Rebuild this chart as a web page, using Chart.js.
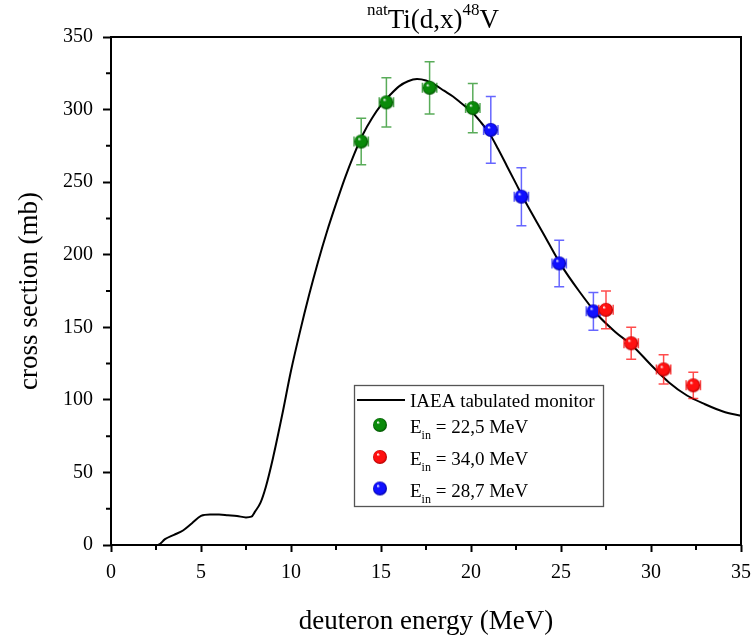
<!DOCTYPE html>
<html>
<head>
<meta charset="utf-8">
<title>natTi(d,x)48V</title>
<script src="https://cdn.jsdelivr.net/npm/chart.js@4.4.1/dist/chart.umd.min.js"></script>
<style>
    html, body { margin: 0; padding: 0; background: #fff; }
    #wrap { width: 754px; height: 638px; }
</style>
</head>
<body>
<div id="wrap"><canvas id="chart" width="754" height="638"></canvas></div>
<script>
// IAEA tabulated monitor curve
const monitorEnergy = [2.0, 2.6, 3.0, 3.5, 4.0, 4.5, 5.0, 5.5, 6.0, 6.5, 7.0, 7.5, 7.8, 8.0, 8.3, 8.6, 9.0, 9.5,
    10.0, 10.5, 11.0, 11.5, 12.0, 12.5, 13.0, 13.5, 14.0, 14.5, 15.0, 15.5, 16.0, 16.5, 17.0, 17.5, 18.0, 18.5,
    19.0, 19.5, 20.0, 20.5, 21.0, 21.5, 22.0, 22.5, 23.0, 24.0, 25.0, 26.0, 27.0, 28.0, 29.0, 30.0, 31.0, 32.0,
    33.0, 34.0, 35.0];
const monitorXs = [0, 0, 4, 7, 10, 15, 20, 21, 21, 20.5, 20, 19, 19.5, 23, 29, 40, 60, 89,
    120, 147, 172, 195, 216, 235, 253, 269, 283, 294, 303, 310, 316, 319.5, 321, 320, 317, 313,
    309, 304, 299, 292, 284, 273, 261, 249, 237, 215, 193, 175, 159, 147, 137, 124, 112, 103,
    97, 92, 89];

// measured points, one set per incident energy
const run225Energy = [13.9, 15.3, 17.7, 20.1];
const run225Xs = [278, 305, 315, 301];
const run225Err = [16, 17, 18, 17];

const run340Energy = [27.5, 28.9, 30.7, 32.35];
const run340Xs = [162, 139, 121, 110];
const run340Err = [13, 11, 10, 9];

const run287Energy = [21.1, 22.8, 24.9, 26.8];
const run287Xs = [286, 240, 194, 161];
const run287Err = [23, 20, 16, 13];

const energyErr = 0.4;

// axis ticks
const xTicks = [0, 5, 10, 15, 20, 25, 30, 35];
const xMinorTicks = [2.5, 7.5, 12.5, 17.5, 22.5, 27.5, 32.5];
const yTicks = [0, 50, 100, 150, 200, 250, 300, 350];
const yMinorTicks = [25, 75, 125, 175, 225, 275, 325];

const SERIF = '"Liberation Serif", "DejaVu Serif", serif';

// shaded ball used as point marker
function makeSphere(color, dark) {
    const r = 7;
    const c = document.createElement('canvas');
    c.width = 16;
    c.height = 16;
    const ctx = c.getContext('2d');
    const g = ctx.createRadialGradient(5.8, 5.2, 0.3, 8, 8, r);
    g.addColorStop(0, '#ffffff');
    g.addColorStop(0.22, color);
    g.addColorStop(0.75, color);
    g.addColorStop(1, dark);
    ctx.fillStyle = g;
    ctx.beginPath();
    ctx.arc(8, 8, r, 0, Math.PI * 2);
    ctx.fill();
    return c;
}

const greenBall = makeSphere('#0a8a0a', '#005000');
const redBall = makeSphere('#ff1010', '#b00000');
const blueBall = makeSphere('#1010ff', '#0000a0');

function toPoints(xs, ys) {
    return xs.map((x, i) => ({ x: x, y: ys[i] }));
}

// error bars drawn just before each point set
const errorBars = {
    id: 'errorBars',
    beforeDatasetDraw(chart, args) {
        const ds = chart.data.datasets[args.index];
        if (!ds.errY) return;
        const ctx = chart.ctx;
        const xs = chart.scales.x;
        const ys = chart.scales.y;
        ctx.save();
        ctx.strokeStyle = ds.errColor;
        ctx.lineWidth = 1.5;
        ds.data.forEach((p, i) => {
            const px = xs.getPixelForValue(p.x);
            const py = ys.getPixelForValue(p.y);
            const top = ys.getPixelForValue(p.y + ds.errY[i]);
            const bot = ys.getPixelForValue(p.y - ds.errY[i]);
            const lft = xs.getPixelForValue(p.x - ds.errX);
            const rgt = xs.getPixelForValue(p.x + ds.errX);
            ctx.beginPath();
            ctx.moveTo(px, top); ctx.lineTo(px, bot);
            ctx.moveTo(px - 5, top); ctx.lineTo(px + 5, top);
            ctx.moveTo(px - 5, bot); ctx.lineTo(px + 5, bot);
            ctx.moveTo(lft, py); ctx.lineTo(rgt, py);
            ctx.moveTo(lft, py - 5); ctx.lineTo(lft, py + 5);
            ctx.moveTo(rgt, py - 5); ctx.lineTo(rgt, py + 5);
            ctx.stroke();
        });
        ctx.restore();
    }
};

// box frame + minor ticks
const frame = {
    id: 'frame',
    afterDraw(chart) {
        const { ctx, chartArea: a } = chart;
        const xs = chart.scales.x;
        const ys = chart.scales.y;
        ctx.save();
        ctx.strokeStyle = '#000';
        ctx.lineWidth = 2;
        ctx.strokeRect(a.left, a.top, a.right - a.left, a.bottom - a.top);
        ctx.beginPath();
        for (const v of xMinorTicks) {
            const px = xs.getPixelForValue(v);
            ctx.moveTo(px, a.bottom); ctx.lineTo(px, a.bottom + 5);
        }
        for (const v of yMinorTicks) {
            const py = ys.getPixelForValue(v);
            ctx.moveTo(a.left, py); ctx.lineTo(a.left - 5, py);
        }
        ctx.stroke();
        ctx.restore();
    }
};

// title with superscripts
const titlePlugin = {
    id: 'nuclideTitle',
    afterDraw(chart) {
        const ctx = chart.ctx;
        const parts = [
            { t: 'nat', size: 17, dy: -13 },
            { t: 'Ti(d,x)', size: 27, dy: 0 },
            { t: '48', size: 17, dy: -13 },
            { t: 'V', size: 27, dy: 0 }
        ];
        ctx.save();
        ctx.fillStyle = '#000';
        ctx.textBaseline = 'alphabetic';
        let total = 0;
        for (const p of parts) {
            ctx.font = p.size + 'px ' + SERIF;
            p.w = ctx.measureText(p.t).width;
            total += p.w;
        }
        let x = 433 - total / 2;
        const base = 28;
        for (const p of parts) {
            ctx.font = p.size + 'px ' + SERIF;
            ctx.fillText(p.t, x, base + p.dy);
            x += p.w;
        }
        ctx.restore();
    }
};

// legend box with subscripts
const legendBox = {
    id: 'legendBox',
    afterDraw(chart) {
        const ctx = chart.ctx;
        ctx.save();
        ctx.fillStyle = '#fff';
        ctx.fillRect(354, 385, 249, 121);
        ctx.strokeStyle = '#555';
        ctx.lineWidth = 1.3;
        ctx.strokeRect(354.5, 385.5, 249, 121);

        ctx.strokeStyle = '#000';
        ctx.lineWidth = 2;
        ctx.beginPath();
        ctx.moveTo(357, 400); ctx.lineTo(405, 400);
        ctx.stroke();

        ctx.fillStyle = '#000';
        ctx.textBaseline = 'alphabetic';
        ctx.font = '19px ' + SERIF;
        ctx.fillText('IAEA tabulated monitor', 410, 406.5);

        const rows = [
            { ball: greenBall, label: ' = 22,5 MeV', base: 433 },
            { ball: redBall, label: ' = 34,0 MeV', base: 465 },
            { ball: blueBall, label: ' = 28,7 MeV', base: 496.5 }
        ];
        for (const r of rows) {
            ctx.drawImage(r.ball, 380 - 8, r.base - 8 - 8);
            let x = 410;
            ctx.font = '19px ' + SERIF;
            ctx.fillText('E', x, r.base);
            x += ctx.measureText('E').width;
            ctx.font = '12px ' + SERIF;
            ctx.fillText('in', x, r.base + 6);
            x += ctx.measureText('in').width;
            ctx.font = '19px ' + SERIF;
            ctx.fillText(r.label, x, r.base);
        }
        ctx.restore();
    }
};

const ctx = document.getElementById('chart').getContext('2d');
const chart = new Chart(ctx, {
    type: 'scatter',
    data: {
        datasets: [
            {
                label: 'E_in = 22,5 MeV',
                data: toPoints(run225Energy, run225Xs),
                errY: run225Err,
                errX: energyErr,
                errColor: 'rgba(0, 128, 0, 0.65)',
                pointStyle: greenBall,
                pointRadius: 8
            },
            {
                label: 'E_in = 34,0 MeV',
                data: toPoints(run340Energy, run340Xs),
                errY: run340Err,
                errX: energyErr,
                errColor: 'rgba(255, 0, 0, 0.7)',
                pointStyle: redBall,
                pointRadius: 8
            },
            {
                label: 'E_in = 28,7 MeV',
                data: toPoints(run287Energy, run287Xs),
                errY: run287Err,
                errX: energyErr,
                errColor: 'rgba(0, 0, 255, 0.6)',
                pointStyle: blueBall,
                pointRadius: 8
            },
            {
                label: 'IAEA tabulated monitor',
                data: toPoints(monitorEnergy, monitorXs),
                showLine: true,
                borderColor: '#000',
                borderWidth: 2,
                pointRadius: 0,
                cubicInterpolationMode: 'monotone',
                fill: false
            }
        ]
    },
    options: {
        responsive: false,
        animation: false,
        clip: false,
        layout: { padding: { top: 37, right: 13, bottom: 0, left: 0 } },
        plugins: {
            legend: { display: false },
            tooltip: { enabled: false }
        },
        scales: {
            x: {
                type: 'linear',
                min: 0,
                max: 35,
                afterBuildTicks: s => { s.ticks = xTicks.map(v => ({ value: v })); },
                afterFit: s => { s.height = 93; s.paddingRight = 0; s.paddingLeft = 0; },
                border: { display: false },
                grid: { drawOnChartArea: false, drawTicks: true, tickLength: 7, tickWidth: 2, tickColor: '#000' },
                ticks: { color: '#000', font: { family: SERIF, size: 20 }, padding: 9, maxRotation: 0, autoSkip: false },
                title: {
                    display: true,
                    text: 'deuteron energy (MeV)',
                    color: '#000',
                    font: { family: SERIF, size: 27 },
                    padding: { top: 0, bottom: 0 }
                }
            },
            y: {
                type: 'linear',
                min: 0,
                max: 350,
                afterBuildTicks: s => { s.ticks = yTicks.map(v => ({ value: v })); },
                afterFit: s => { s.width = 111; s.paddingTop = 0; s.paddingBottom = 0; },
                border: { display: false },
                grid: { drawOnChartArea: false, drawTicks: true, tickLength: 8, tickWidth: 2, tickColor: '#000' },
                ticks: { color: '#000', font: { family: SERIF, size: 20 }, padding: 10 },
                title: {
                    display: true,
                    text: 'cross section (mb)',
                    color: '#000',
                    font: { family: SERIF, size: 27 },
                    padding: { top: 14, bottom: 0 }
                }
            }
        }
    },
    plugins: [errorBars, frame, titlePlugin, legendBox]
});
</script>
</body>
</html>
